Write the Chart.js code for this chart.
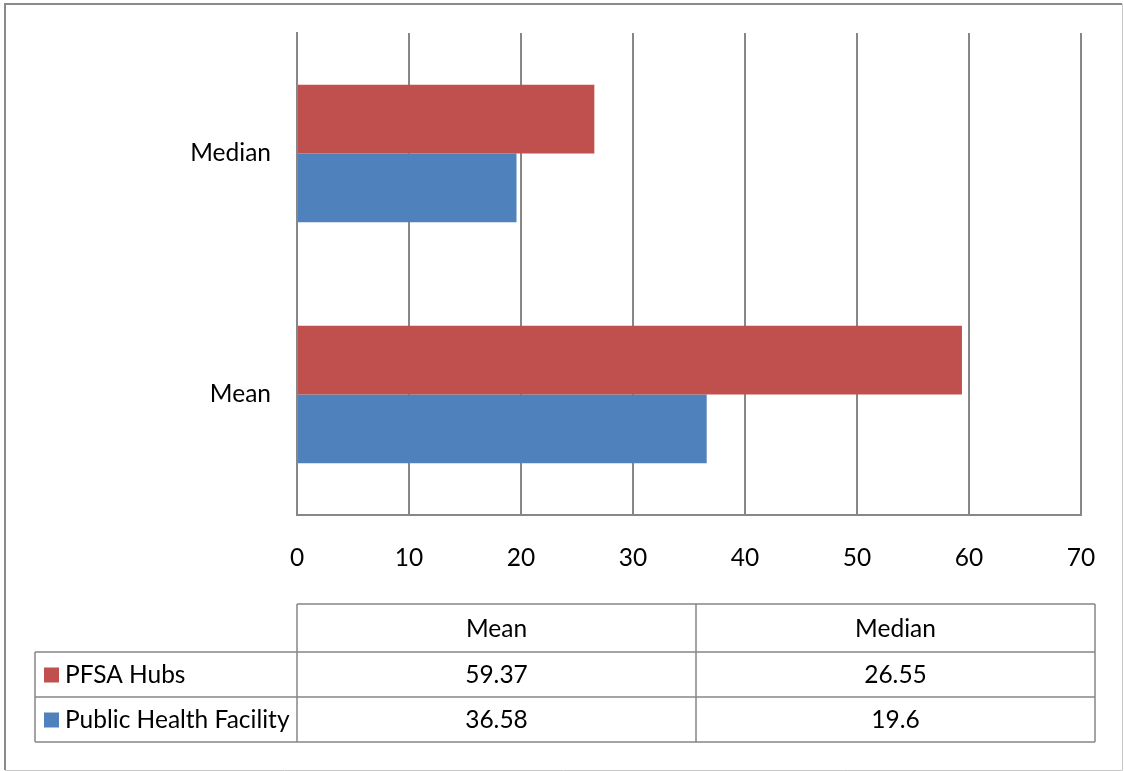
<!DOCTYPE html>
<html>
<head>
<meta charset="utf-8">
<script src="https://cdn.jsdelivr.net/npm/chart.js@4/dist/chart.umd.min.js"></script>
<style>
  html, body { margin: 0; padding: 0; background: #fff; }
  #wrap { position: relative; width: 1124px; height: 771px; }
</style>
</head>
<body>
<div id="wrap"><canvas id="c" width="1124" height="771"></canvas></div>
<script>
// Categories and series
const categories = ['Mean', 'Median'];
const seriesNames = ['PFSA Hubs', 'Public Health Facility'];
const pfsaHubs = [59.37, 26.55];
const publicHealthFacility = [36.58, 19.6];
const tableValues = [pfsaHubs, publicHealthFacility];
const xTicks = [0, 10, 20, 30, 40, 50, 60, 70];

const RED = '#C0504D';
const BLUE = '#4F81BD';
const GRID = '#878787';
const FONT = 'Lato, "Open Sans", "Liberation Sans", sans-serif';
const FONT_SIZE = 24.5;

// Frame around the whole chart plus the data table beneath the axis
const frameAndTable = {
  id: 'frameAndTable',
  afterDraw(chart) {
    const ctx = chart.ctx;
    const xs = chart.scales.x;
    ctx.save();
    // outer frame
    ctx.strokeStyle = '#8a8a8a';
    ctx.lineWidth = 2;
    ctx.beginPath();
    ctx.moveTo(5, 770); ctx.lineTo(5, 4); ctx.lineTo(1122, 4);
    ctx.stroke();
    ctx.strokeStyle = '#c8c8c8';
    ctx.lineWidth = 1;
    ctx.beginPath();
    ctx.moveTo(1122.5, 4); ctx.lineTo(1122.5, 770.5); ctx.lineTo(5, 770.5);
    ctx.stroke();

    // data table geometry
    const colL = 35, col0 = xs.left, col1 = 696, col2 = 1095;
    const rH = 604, r0 = 652, r1 = 697, r2 = 742;
    ctx.strokeStyle = GRID;
    ctx.lineWidth = 1.5;
    ctx.beginPath();
    // header row (no legend cell)
    ctx.moveTo(col0, rH); ctx.lineTo(col2, rH);
    ctx.moveTo(colL, r0); ctx.lineTo(col2, r0);
    ctx.moveTo(colL, r1); ctx.lineTo(col2, r1);
    ctx.moveTo(colL, r2); ctx.lineTo(col2, r2);
    ctx.moveTo(colL, r0); ctx.lineTo(colL, r2);
    ctx.moveTo(col0, rH); ctx.lineTo(col0, r2);
    ctx.moveTo(col1, rH); ctx.lineTo(col1, r2);
    ctx.moveTo(col2, rH); ctx.lineTo(col2, r2);
    ctx.stroke();

    ctx.fillStyle = '#000';
    ctx.font = FONT_SIZE + 'px ' + FONT;
    ctx.textBaseline = 'middle';
    ctx.textAlign = 'center';
    const colCenters = [(col0 + col1) / 2, (col1 + col2) / 2];
    categories.forEach((c, i) => ctx.fillText(c, colCenters[i], (rH + r0) / 2 + 1));
    const rowMids = [(r0 + r1) / 2 + 1, (r1 + r2) / 2 + 1];
    const colors = [RED, BLUE];
    seriesNames.forEach((name, j) => {
      ctx.fillStyle = colors[j];
      ctx.fillRect(44, rowMids[j] - 8, 15, 15);
      ctx.fillStyle = '#000';
      ctx.textAlign = 'left';
      ctx.fillText(name, 65, rowMids[j]);
      ctx.textAlign = 'center';
      tableValues[j].forEach((v, i) => ctx.fillText(String(v), colCenters[i], rowMids[j]));
    });
    ctx.restore();
  }
};

new Chart(document.getElementById('c'), {
  type: 'bar',
  data: {
    labels: categories,
    datasets: [
      { label: seriesNames[0], data: pfsaHubs, backgroundColor: RED, borderWidth: 0 },
      { label: seriesNames[1], data: publicHealthFacility, backgroundColor: BLUE, borderWidth: 0 }
    ]
  },
  options: {
    indexAxis: 'y',
    responsive: false,
    animation: false,
    devicePixelRatio: 1,
    categoryPercentage: 0.571,
    barPercentage: 1.0,
    layout: { padding: { left: 0, top: 33, right: 43, bottom: 186 } },
    plugins: { legend: { display: false }, tooltip: { enabled: false } },
    scales: {
      x: {
        min: 0, max: 70,
        afterBuildTicks(scale) { scale.ticks = xTicks.map(v => ({ value: v })); },
        afterFit(scale) { scale.height = 70; scale.paddingLeft = 0; scale.paddingRight = 0; },
        grid: { color: GRID, lineWidth: 2, drawTicks: false },
        border: { color: GRID, width: 2 },
        ticks: { color: '#000', font: { family: FONT, size: FONT_SIZE }, padding: 28, maxRotation: 0 }
      },
      y: {
        reverse: true,
        afterFit(scale) { scale.width = 297; scale.paddingTop = 0; scale.paddingBottom = 0; },
        grid: { display: false, drawTicks: false },
        border: { color: GRID, width: 2 },
        ticks: { color: '#000', font: { family: FONT, size: FONT_SIZE }, padding: 26 }
      }
    }
  },
  plugins: [frameAndTable]
});
</script>
</body>
</html>
